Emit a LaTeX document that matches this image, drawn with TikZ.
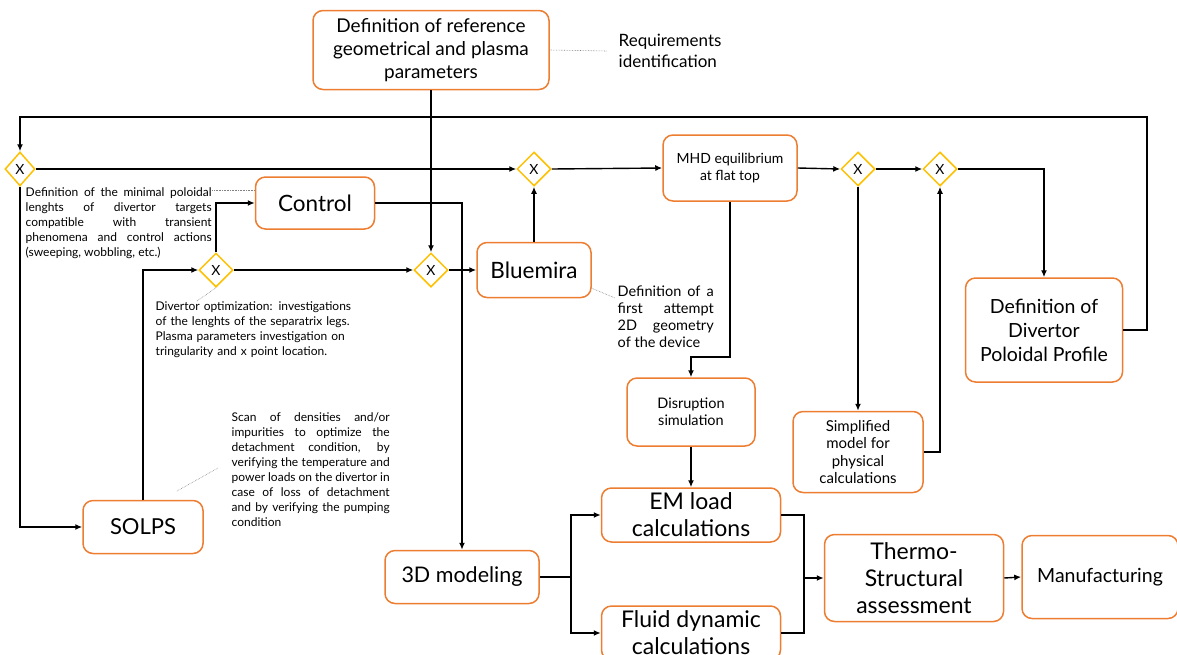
\documentclass[tikz,border=0pt]{standalone}
\usepackage{fontspec}
\setmainfont{Lato}
\usetikzlibrary{shapes.geometric,arrows.meta}
\definecolor{boxorange}{HTML}{ED7D31}
\definecolor{gategold}{HTML}{FFC000}
\newcommand{\fs}[2]{\fontsize{#1}{#2}\selectfont}

\begin{document}
\begin{tikzpicture}[x=1pt,y=-1pt,line width=1.4pt,
    box/.style={draw=boxorange,line width=1.5pt,rounded corners=10pt,fill=white,align=center,inner sep=2pt},
    gate/.style={diamond,draw=gategold,line width=1.5pt,fill=white,minimum width=34pt,minimum height=34pt,inner sep=0pt,font=\fs{14}{16}},
    flow/.style={-{Latex[length=7pt,width=6pt]}},
    note/.style={align=justify,inner sep=0pt,anchor=north west,font=\fs{12}{15}},
    noteline/.style={densely dotted,line width=0.6pt,gray}]
  \useasboundingbox (0,0) rectangle (1177,654);

  % boxes
  \node[box,minimum width=236pt,minimum height=79pt,font=\fs{19}{23}] (ref) at (431,50) {Definition of reference\\geometrical and plasma\\parameters};
  \node[anchor=west,align=left,inner sep=0pt,font=\fs{17}{21}] (req) at (618,51) {Requirements\\identification};
  \node[box,minimum width=134pt,minimum height=66pt,font=\fs{14}{17}] (mhd) at (730,168) {MHD equilibrium\\at flat top};
  \node[box,minimum width=114pt,minimum height=55pt,font=\fs{22.5}{25}] (blue) at (534,270) {Bluemira};
  \node[box,minimum width=119pt,minimum height=52pt,font=\fs{22.5}{24}] (ctrl) at (315,203) {Control};
  \node[box,minimum width=120pt,minimum height=53pt,font=\fs{22}{24}] (solps) at (143,527) {SOLPS};
  \node[box,minimum width=128pt,minimum height=68pt,font=\fs{14.5}{17}] (dis) at (691,412) {Disruption\\simulation};
  \node[box,minimum width=130pt,minimum height=81pt,font=\fs{15}{17.5}] (sim) at (858,452) {Simplified\\model for\\physical\\calculations};
  \node[box,minimum width=157pt,minimum height=104pt,font=\fs{19.5}{24}] (div) at (1044,330) {Definition of\\Divertor\\Poloidal Profile};
  \node[box,minimum width=179pt,minimum height=54pt,font=\fs{23}{27}] (em) at (691,515) {EM load\\calculations};
  \node[box,minimum width=179pt,minimum height=54pt,font=\fs{23}{27}] (fluid) at (691,633) {Fluid dynamic\\calculations};
  \node[box,minimum width=154pt,minimum height=53pt,font=\fs{21.5}{24}] (mod) at (462,577) {3D modeling};
  \node[box,minimum width=179pt,minimum height=87pt,font=\fs{23}{27}] (thermo) at (914,578) {Thermo-\\Structural\\assessment};
  \node[box,minimum width=156pt,minimum height=83pt,font=\fs{19.5}{24}] (manu) at (1100,577) {Manufacturing};

  % gateways
  \node[gate,minimum width=30pt] (g1) at (20,169) {X};
  \node[gate] (g2) at (534,169) {X};
  \node[gate] (g3) at (858,169) {X};
  \node[gate] (g4) at (940,169) {X};
  \node[gate] (g5) at (431,270) {X};
  \node[gate] (g6) at (216,270) {X};

  % notes
  \node[note,text width=186pt] (n1) at (25,187) {Definition of the minimal poloidal\linebreak lenghts of divertor targets\linebreak compatible with transient\linebreak phenomena and control actions\linebreak (sweeping, wobbling, etc.)};
  \node[note,align=left,text width=205pt] (n2) at (155,301) {Divertor optimization: investigations\\of the lenghts of the separatrix legs.\\Plasma parameters investigation on\\tringularity and x point location.};
  \node[note,text width=158pt] (n3) at (231,412) {Scan of densities and/or\linebreak impurities to optimize the\linebreak detachment condition, by\linebreak verifying the temperature and\linebreak power loads on the divertor in\linebreak case of loss of detachment\linebreak and by verifying the pumping\linebreak condition};
  \node[note,text width=96pt,font=\fs{14.5}{17}] (n4) at (617,285) {Definition of a\linebreak first attempt\linebreak 2D geometry\linebreak of the device};

  \coordinate (loopR) at (1147,117);
  \coordinate (mhdturn) at (730,357);
  \coordinate (split) at (571,577);
  \coordinate (merge) at (804,578);
  \coordinate (n3a) at (177,491);
  \coordinate (n3b) at (218,468);

  % flow
  \draw[flow] (ref.south) -- (g5.north);
  \draw[flow] (div.east) -| (loopR) -| (g1.north);
  \draw[flow] (g1.east) -- (g2.west);
  \draw[flow] (g2.east) -- (mhd.west);
  \draw[flow] (mhd.east) -- (g3.west);
  \draw[flow] (g3.east) -- (g4.west);
  \draw[flow] (g4.east) -| (div.north);
  \draw[flow] (g3.south) -- (sim.north);
  \draw[flow] (sim.east) -| (g4.south);
  \draw[flow] (mhd.south) -- (mhdturn) -| (dis.north);
  \draw[flow] (dis.south) -- (em.north);
  \draw[flow] (ctrl.east) -| (mod.north);
  \draw[flow] (g6.north) |- (ctrl.west);
  \draw[flow] (g6.east) -- (g5.west);
  \draw[flow] (g5.east) -- (blue.west);
  \draw[flow] (blue.north) -- (g2.south);
  \draw[flow] (solps.north) |- (g6.west);
  \draw[flow] (g1.south) |- (solps.west);
  \draw (mod.east) -- (split);
  \draw[flow] (split) |- (em.west);
  \draw[flow] (split) |- (fluid.west);
  \draw (em.east) -| (merge);
  \draw (fluid.east) -| (merge);
  \draw[flow] (merge) -- (thermo.west);
  \draw[flow] (thermo.east) -- (manu.west);

  % note lines
  \draw[noteline] (ref.east) -- ([xshift=-11pt]req.west);
  \draw[noteline] ([yshift=-3pt]n1.north east) -- ([yshift=-3pt]n1.north east -| ctrl.west);
  \draw[noteline] (g6.south) -- ([xshift=42pt]n2.north west);
  \draw[noteline] (n3a) -- (n3b);
  \draw[noteline] ([yshift=10pt]blue.south east) -- ([shift={(-2pt,-13pt)}]n4.north west);
\end{tikzpicture}
\end{document}
